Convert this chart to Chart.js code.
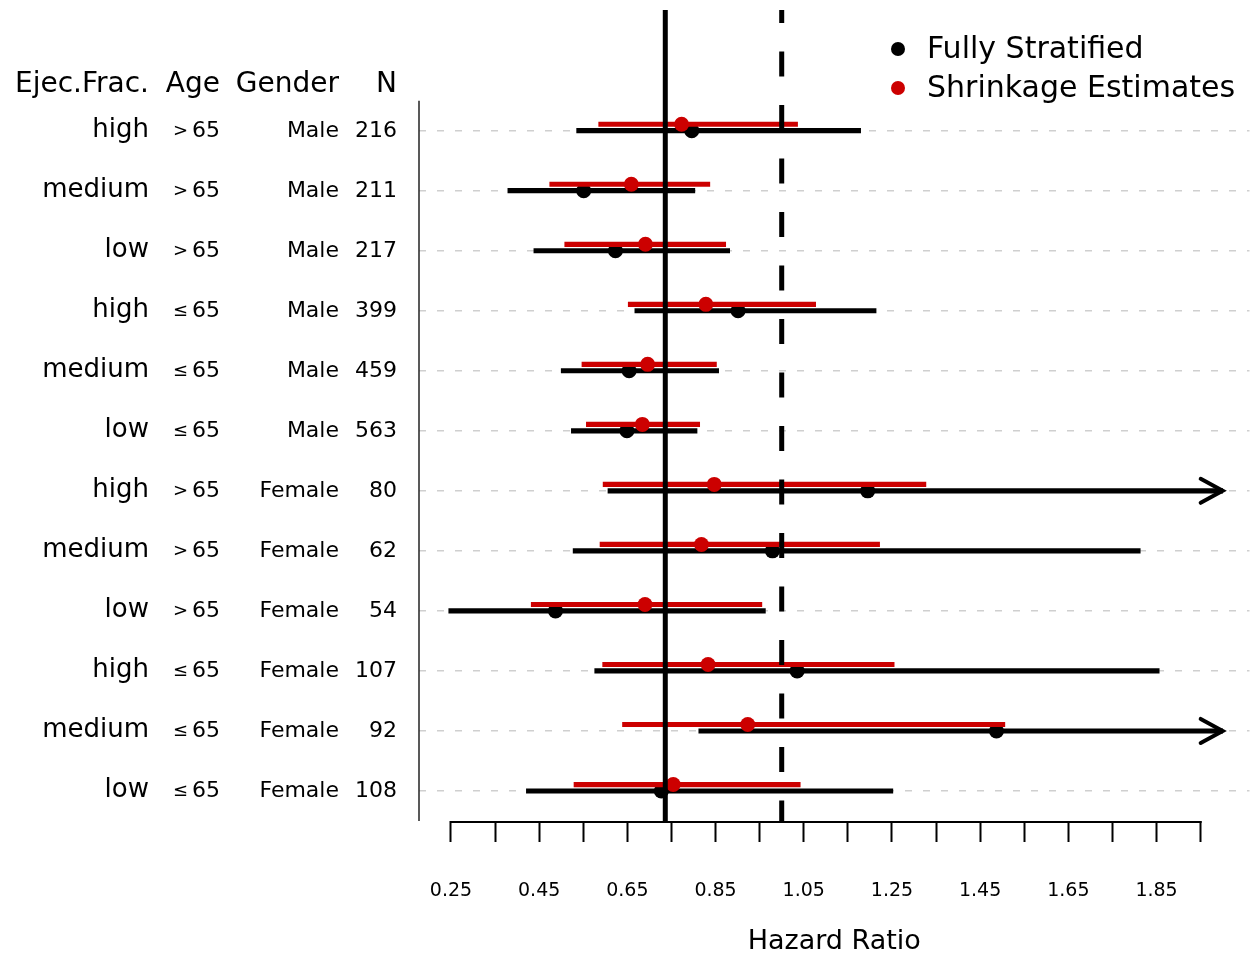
<!DOCTYPE html>
<html lang="en">
<head>
  <meta charset="UTF-8" />
  <title>Hazard ratios by subgroup</title>
  <script src="https://cdn.jsdelivr.net/npm/chart.js"></script>
  <style>
    html, body { margin: 0; padding: 0; background: #fff; overflow: hidden; }
    #wrap { width: 1257px; height: 955px; position: relative; }
  </style>
</head>
<body>
  <div id="wrap"><canvas id="forest"></canvas></div>

  <script>
    // subgroups, top to bottom
    const ejecFrac = ['high', 'medium', 'low', 'high', 'medium', 'low',
                      'high', 'medium', 'low', 'high', 'medium', 'low'];
    const ageGroup = ['>65', '>65', '>65', '≤65', '≤65', '≤65',
                      '>65', '>65', '>65', '≤65', '≤65', '≤65'];
    const gender = ['Male', 'Male', 'Male', 'Male', 'Male', 'Male',
                    'Female', 'Female', 'Female', 'Female', 'Female', 'Female'];
    const nPatients = [216, 211, 217, 399, 459, 563, 80, 62, 54, 107, 92, 108];

    // fully stratified estimates (null upper = runs off the axis -> arrow)
    const fullyEst = [0.796, 0.551, 0.623, 0.901, 0.654, 0.649, 1.195, 0.979, 0.487, 1.035, 1.487, 0.727];
    const fullyLo  = [0.535, 0.379, 0.438, 0.667, 0.500, 0.523, 0.606, 0.527, 0.245, 0.576, 0.812, 0.421];
    const fullyHi  = [1.179, 0.803, 0.882, 1.214, 0.857, 0.808, null, 1.813, 0.963, 1.856, null, 1.252];

    // shrinkage estimates
    const shrinkEst = [0.773, 0.659, 0.691, 0.828, 0.696, 0.684, 0.847, 0.818, 0.690, 0.833, 0.923, 0.754];
    const shrinkLo  = [0.585, 0.474, 0.508, 0.652, 0.547, 0.557, 0.595, 0.588, 0.432, 0.594, 0.639, 0.529];
    const shrinkHi  = [1.036, 0.837, 0.873, 1.077, 0.852, 0.814, 1.327, 1.222, 0.955, 1.255, 1.506, 1.042];

    const seriesNames = ['Fully Stratified', 'Shrinkage Estimates'];
    const overallHR = 0.736;   // solid line
    const nullHR = 1.0;        // dashed line
    const arrowAt = 2.0;       // where off-scale intervals are cut

    const xTickValues = [0.25, 0.35, 0.45, 0.55, 0.65, 0.75, 0.85, 0.95, 1.05,
                         1.15, 1.25, 1.35, 1.45, 1.55, 1.65, 1.75, 1.85, 1.95];
    const xTickLabels = ['0.25', '', '0.45', '', '0.65', '', '0.85', '', '1.05',
                         '', '1.25', '', '1.45', '', '1.65', '', '1.85', ''];
    const tableHeader = ['Ejec.Frac.', 'Age', 'Gender', 'N'];

    const BLACK = '#000000';
    const RED = '#cc0000';
    const FONT = 'DejaVu Sans';
    const rows = ejecFrac.map((_, i) => i + 1);
    const redShift = 0.107;  // red intervals sit a little above the row

    // extra drawing: reference lines, arrows, R-style axes, side table, legend
    const forestDecor = {
      id: 'forestDecor',
      beforeDraw(chart) {
        const ctx = chart.ctx;
        ctx.save();
        ctx.fillStyle = '#fff';
        ctx.fillRect(0, 0, chart.width, chart.height);
        ctx.restore();
      },
      afterDatasetsDraw(chart) {
        const { ctx, chartArea: a, scales: { x, y } } = chart;
        ctx.save();

        // vertical reference lines
        ctx.strokeStyle = BLACK;
        ctx.lineWidth = 5;
        let px = x.getPixelForValue(overallHR);
        ctx.beginPath(); ctx.moveTo(px, a.top); ctx.lineTo(px, a.bottom); ctx.stroke();
        px = x.getPixelForValue(nullHR);
        ctx.setLineDash([25, 28.5]);
        ctx.lineDashOffset = 12;
        ctx.beginPath(); ctx.moveTo(px, a.top); ctx.lineTo(px, a.bottom); ctx.stroke();
        ctx.setLineDash([]);

        // arrow heads for intervals leaving the axis
        ctx.lineWidth = 4;
        ctx.lineCap = 'round';
        fullyHi.forEach((v, i) => {
          if (v !== null) return;
          const tx = x.getPixelForValue(arrowAt);
          const ty = y.getPixelForValue(rows[i]);
          ctx.beginPath();
          ctx.moveTo(tx - 22, ty - 12); ctx.lineTo(tx, ty); ctx.lineTo(tx - 22, ty + 12);
          ctx.stroke();
        });

        // left axis line, spanning the rows
        ctx.lineCap = 'butt';
        ctx.strokeStyle = '#222';
        ctx.lineWidth = 1.5;
        ctx.beginPath();
        ctx.moveTo(a.left, y.getPixelForValue(0.5));
        ctx.lineTo(a.left, y.getPixelForValue(rows.length + 0.5));
        ctx.stroke();

        // bottom axis line, spanning the ticks
        ctx.strokeStyle = BLACK;
        ctx.lineWidth = 2;
        ctx.beginPath();
        ctx.moveTo(x.getPixelForValue(xTickValues[0]) - 1, x.top + 1);
        ctx.lineTo(x.getPixelForValue(xTickValues[xTickValues.length - 1]) + 1, x.top + 1);
        ctx.stroke();

        // subgroup table on the left
        const colRight = [149, 220, 339, 397];
        ctx.fillStyle = BLACK;
        ctx.textAlign = 'right';
        ctx.textBaseline = 'alphabetic';
        ctx.font = '28px "' + FONT + '"';
        const headY = y.getPixelForValue(1) - 39;
        tableHeader.forEach((h, c) => ctx.fillText(h, colRight[c], headY));

        rows.forEach((r, i) => {
          const by = y.getPixelForValue(r) + 6.5;
          ctx.font = '26px "' + FONT + '"';
          ctx.fillText(ejecFrac[i], colRight[0], by);
          ctx.font = '22px "' + FONT + '"';
          const num = ageGroup[i].slice(1);
          ctx.fillText(num, colRight[1], by);
          const w = ctx.measureText(num).width;
          ctx.font = '18px "' + FONT + '"';
          ctx.fillText(ageGroup[i][0], colRight[1] - w - 4, by - 1);
          ctx.font = '22px "' + FONT + '"';
          ctx.fillText(gender[i], colRight[2], by);
          ctx.fillText(String(nPatients[i]), colRight[3], by);
        });

        // legend, top right
        const colors = [BLACK, RED];
        const legY = [49, 88];
        ctx.textAlign = 'left';
        ctx.textBaseline = 'middle';
        ctx.font = '30px "' + FONT + '"';
        seriesNames.forEach((name, k) => {
          ctx.fillStyle = colors[k];
          ctx.beginPath();
          ctx.arc(898, legY[k], 7, 0, Math.PI * 2);
          ctx.fill();
          ctx.fillStyle = BLACK;
          ctx.fillText(name, 927, legY[k] + 1);
        });

        ctx.restore();
      }
    };

    const pointOpts = { pointRadius: 7.5, pointHoverRadius: 7.5, borderWidth: 0 };
    const barOpts = {
      type: 'bar', indexAxis: 'y', grouped: false,
      barPercentage: 1, categoryPercentage: 1, maxBarThickness: 4.5, borderWidth: 0
    };

    new Chart(document.getElementById('forest'), {
      type: 'scatter',
      data: {
        datasets: [
          Object.assign({
            label: seriesNames[1],
            data: rows.map((r, i) => ({ x: shrinkEst[i], y: r - redShift })),
            backgroundColor: RED,
            order: 0
          }, pointOpts),
          Object.assign({
            label: seriesNames[1] + ' interval',
            data: rows.map((r, i) => ({ x: [shrinkLo[i], shrinkHi[i]], y: r - redShift })),
            backgroundColor: RED,
            order: 1
          }, barOpts),
          Object.assign({
            label: seriesNames[0],
            data: rows.map((r, i) => ({ x: fullyEst[i], y: r })),
            backgroundColor: BLACK,
            order: 2
          }, pointOpts),
          Object.assign({
            label: seriesNames[0] + ' interval',
            data: rows.map((r, i) => ({ x: [fullyLo[i], fullyHi[i] ?? arrowAt], y: r })),
            backgroundColor: BLACK,
            order: 3
          }, barOpts)
        ]
      },
      options: {
        responsive: true,
        maintainAspectRatio: false,
        animation: false,
        layout: { padding: { top: 10, left: 0, right: 0, bottom: 0 } },
        plugins: { legend: { display: false }, tooltip: { enabled: false } },
        scales: {
          x: {
            type: 'linear',
            position: 'bottom',
            min: 0.1775,
            max: 2.0608,
            offset: false,
            afterBuildTicks: s => { s.ticks = xTickValues.map(v => ({ value: v })); },
            afterFit: s => { s.height = 134; s.paddingLeft = 0; s.paddingRight = 0; },
            grid: { offset: false, drawOnChartArea: false, drawTicks: true, tickLength: 21, tickColor: BLACK, tickWidth: 2 },
            border: { display: false },
            ticks: {
              autoSkip: false,
              maxRotation: 0,
              padding: 38,
              color: BLACK,
              font: { family: FONT, size: 19 },
              callback: (v, i) => xTickLabels[i]
            },
            title: {
              display: true,
              text: 'Hazard Ratio',
              color: BLACK,
              font: { family: FONT, size: 27, lineHeight: 1 },
              padding: { top: 0, bottom: 0 }
            }
          },
          y: {
            type: 'linear',
            reverse: true,
            min: -1.01,
            max: 12.5,
            offset: false,
            afterBuildTicks: s => { s.ticks = rows.map(v => ({ value: v })); },
            afterFit: s => { s.width = 419; s.paddingTop = 0; s.paddingBottom = 0; },
            ticks: { display: false },
            grid: { offset: false, color: '#cfcfcf', lineWidth: 1.5, drawTicks: false },
            border: { display: false, dash: [7, 11] }
          }
        }
      },
      plugins: [forestDecor]
    });
  </script>
</body>
</html>
